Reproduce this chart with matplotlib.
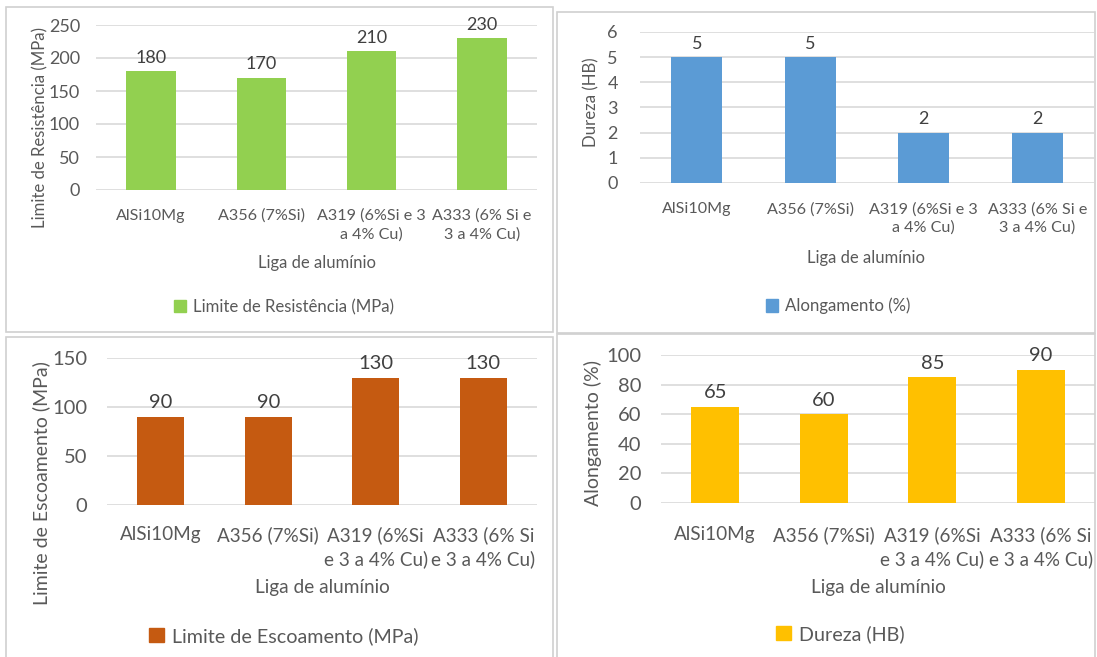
import matplotlib
matplotlib.use("Agg")
import matplotlib.pyplot as plt
from matplotlib.patches import Rectangle, Patch

plt.rcParams['font.family'] = ['Lato', 'DejaVu Sans']

W, H = 1097, 657

ligas_sup = ["AlSi10Mg", "A356 (7%Si)", "A319 (6%Si e 3\na 4% Cu)", "A333 (6% Si e\n3 a 4% Cu)"]
ligas_inf = ["AlSi10Mg", "A356 (7%Si)", "A319 (6%Si\ne 3 a 4% Cu)", "A333 (6% Si\ne 3 a 4% Cu)"]

limite_resistencia = [180, 170, 210, 230]
alongamento = [5, 5, 2, 2]
limite_escoamento = [90, 90, 130, 130]
dureza = [65, 60, 85, 90]

TXT = "#595959"
GRID = "#D9D9D9"

# tamanhos de fonte: gráficos de cima e de baixo
FS_SUP = dict(cat=11.6, tick=13, dado=13, xlab=12, leg=12.1, ylab=12.1, ls=1.36)
FS_INF = dict(cat=13.6, tick=14.5, dado=14.5, xlab=13.7, leg=14.2, ylab=14, ls=1.42)

fig = plt.figure(figsize=(W / 100, H / 100), dpi=100)


def fx(px):
    return px / W


def fy(py):
    return 1 - py / H


def painel(frame, area, cats, vals, cor, ylab, leg, ymax, ystep, fs,
           ylab_pos, ypad, cat_pad, xlab_pos, leg_pos, width):
    # moldura do gráfico
    x0, y0, x1, y1 = frame
    fig.patches.append(Rectangle((fx(x0), fy(y1)), fx(x1 - x0), (y1 - y0) / H,
                                 transform=fig.transFigure, fill=False,
                                 edgecolor="#D0D0D0", lw=1.2))
    ax_x0, ax_top, ax_x1, ax_bot = area
    ax = fig.add_axes([fx(ax_x0), fy(ax_bot), fx(ax_x1 - ax_x0), (ax_bot - ax_top) / H])
    xs = range(len(cats))
    bars = ax.bar(xs, vals, width=width, color=cor, zorder=3, label=leg)
    for b, v in zip(bars, vals):
        ax.annotate(str(v), (b.get_x() + b.get_width() / 2, v), xytext=(0, 4),
                    textcoords="offset points", ha="center", va="bottom",
                    fontsize=fs["dado"], color="#404040")
    ax.set_xlim(-0.5, len(cats) - 0.5)
    ax.set_ylim(0, ymax)
    ax.set_yticks(range(0, ymax + 1, ystep))
    ax.yaxis.grid(True, color=GRID, lw=1.2, zorder=0)
    ax.set_axisbelow(True)
    for s in ax.spines.values():
        s.set_visible(False)
    ax.tick_params(axis="both", length=0, colors=TXT)
    ax.tick_params(axis="y", pad=ypad, labelsize=fs["tick"])
    ax.set_xticks(list(xs))
    ax.set_xticklabels(cats, linespacing=fs["ls"], fontsize=fs["cat"])
    ax.tick_params(axis="x", pad=cat_pad)
    fig.text(fx(ylab_pos[0]), fy(ylab_pos[1]), ylab, rotation=90, ha="center",
             va="center", fontsize=fs["ylab"], color=TXT)
    fig.text(fx(xlab_pos[0]), fy(xlab_pos[1]), "Liga de alumínio", ha="center",
             va="center", fontsize=fs["xlab"], color=TXT)
    fig.legend(handles=[Patch(color=cor, label=leg)], loc="center",
               bbox_to_anchor=(fx(leg_pos[0]), fy(leg_pos[1])), frameon=False,
               handlelength=0.75, handleheight=0.75, handletextpad=0.4,
               fontsize=fs["leg"], labelcolor=TXT)
    return ax


painel((6, 7, 553, 332), (96, 25, 537, 190), ligas_sup, limite_resistencia,
       "#92D050", "Limite de Resistência (MPa)", "Limite de Resistência (MPa)",
       250, 50, FS_SUP, (40, 128), 11.5, 13.5, (317, 263), (284, 307), 0.45)

painel((557, 12, 1095, 333), (640, 32, 1094, 183), ligas_sup, alongamento,
       "#5B9BD5", "Dureza (HB)", "Alongamento (%)",
       6, 1, FS_SUP, (591, 102), 16, 14, (866, 258), (838, 306), 0.45)

painel((6, 337, 553, 660), (107, 358, 537, 505), ligas_inf, limite_escoamento,
       "#C55A11", "Limite de Escoamento (MPa)", "Limite de Escoamento (MPa)",
       150, 50, FS_INF, (41, 483), 14, 15, (322, 588), (284, 636), 0.44)

painel((557, 334, 1095, 660), (661, 355, 1095, 503), ligas_inf, dureza,
       "#FFC000", "Alongamento (%)", "Dureza (HB)",
       100, 20, FS_INF, (593, 433), 14, 16.5, (878, 587), (840, 634), 0.44)

fig.savefig("out.png", dpi=100)
